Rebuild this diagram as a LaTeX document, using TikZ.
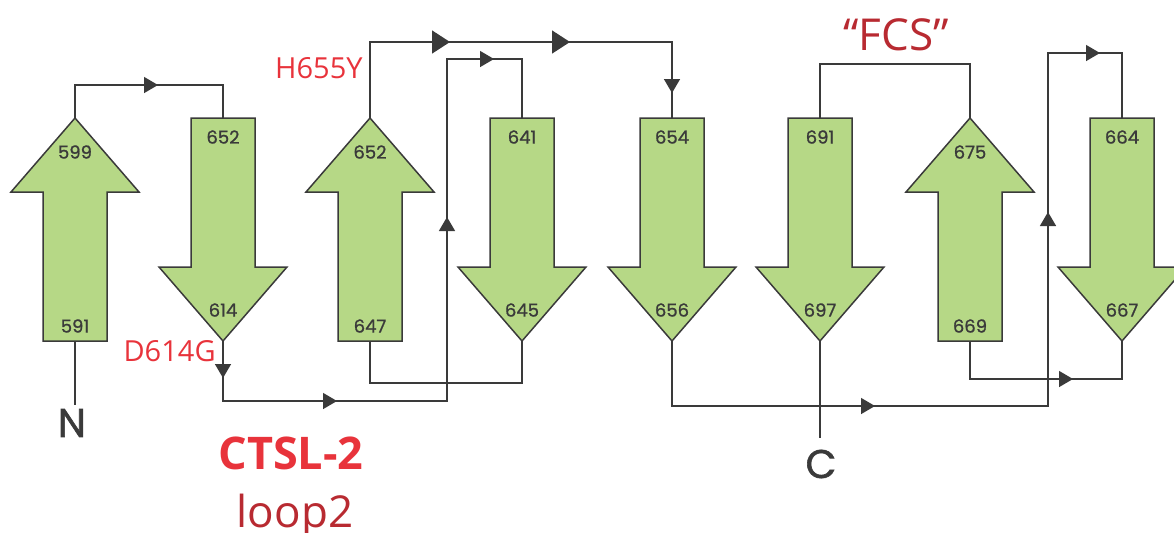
\documentclass[tikz,border=0pt]{standalone}
\usepackage{fontspec}
\usetikzlibrary{arrows.meta,decorations.markings}
\newfontfamily\numfont[RawFeature={embolden=1}]{Poppins}
\newfontfamily\termfont[RawFeature={embolden=1.5}]{Poppins}
\newfontfamily\labfont{Open Sans}
\definecolor{sheet}{HTML}{B6D886}
\definecolor{edge}{HTML}{3A3A3A}
\definecolor{hotred}{HTML}{E8333B}
\definecolor{deepred}{HTML}{B82A31}
\tikzset{
  smalltip/.tip={Triangle[length=7pt,width=8pt]},
  bigtip/.tip={Triangle[length=9pt,width=11.5pt]},
  strand/.style={fill=sheet, draw=edge, line width=0.75pt, line join=miter},
  loopline/.style={draw=edge, line width=0.75pt},
  resnum/.style={font=\numfont\fontsize{9}{10}\selectfont, text=edge, inner sep=0pt},
  termlabel/.style={font=\termfont\fontsize{20}{22}\selectfont, text=edge, inner sep=0pt},
  mutlabel/.style={font=\labfont\fontsize{14.5}{16}\selectfont, text=hotred, inner sep=0pt}
}
\begin{document}
\begin{tikzpicture}[x=0.5pt,y=-0.5pt]
\useasboundingbox (0,0) rectangle (1174,532);
% strands pointing up
\foreach \n/\cx/\lo/\hi in {1/75/591/599, 3/370/647/652, 7/970/669/675} {
  \draw[strand] (\cx,118) -- (\cx+64,192) -- (\cx+32,192) -- (\cx+32,341)
    -- (\cx-32,341) -- (\cx-32,192) -- (\cx-64,192) -- cycle;
  \coordinate (s\n-top) at (\cx,118);
  \coordinate (s\n-bot) at (\cx,341);
  \node[resnum] (n\n-hi) at (\cx,152) {\hi};
  \node[resnum] (n\n-lo) at (\cx,326) {\lo};
}
% strands pointing down
\foreach \n/\cx/\hi/\lo in {2/223/652/614, 4/522/641/645, 5/672/654/656, 6/820/691/697, 8/1122/664/667} {
  \draw[strand] (\cx-32,118) -- (\cx+32,118) -- (\cx+32,267) -- (\cx+64,267)
    -- (\cx,341) -- (\cx-64,267) -- (\cx-32,267) -- cycle;
  \coordinate (s\n-top) at (\cx,118);
  \coordinate (s\n-bot) at (\cx,341);
  \node[resnum] (n\n-hi) at (\cx,137) {\hi};
  \node[resnum] (n\n-lo) at (\cx,310) {\lo};
}
% termini
\coordinate (nend) at (75,405);
\coordinate (cend) at (820,438);
\draw[loopline] (s1-bot) -- (nend);
\draw[loopline] (s6-bot) -- (cend);
\node[termlabel] (nterm) at (72,423) {N};
\node[termlabel] (cterm) at (821,464) {C};
% loops
\draw[loopline, decoration={markings, mark=at position 58pt with {\arrow{smalltip}}}, postaction=decorate]
  (s1-top) -- ++(0,-33) -| (s2-top);
\draw[loopline, decoration={markings,
    mark=at position 18.5pt with {\arrow{smalltip}},
    mark=at position 87pt with {\arrow{smalltip}},
    mark=at position 234pt with {\arrow{smalltip}},
    mark=at position 336.5pt with {\arrow{smalltip}}}, postaction=decorate]
  (s2-bot) |- (447,401) -- (447,59) -| (s4-top);
\draw[loopline] (s3-bot) -- ++(0,42) -| (s4-bot);
\draw[loopline, decoration={markings,
    mark=at position 78pt with {\arrow{bigtip}},
    mark=at position 138pt with {\arrow{bigtip}},
    mark=at position 214.5pt with {\arrow{smalltip}}}, postaction=decorate]
  (s3-top) -- ++(0,-76) -| (s5-top);
\draw[loopline, decoration={markings,
    mark=at position 134pt with {\arrow{smalltip}},
    mark=at position 317.5pt with {\arrow{smalltip}},
    mark=at position 423pt with {\arrow{smalltip}}}, postaction=decorate]
  (s5-bot) |- (1048,406) -- (1048,53) -| (s8-top);
\draw[loopline, decoration={markings, mark=at position 70.5pt with {\arrow{smalltip}}}, postaction=decorate]
  (s7-bot) -- ++(0,38) -| (s8-bot);
\draw[loopline] (s6-top) -- ++(0,-54) -| (s7-top);
% labels
\node[mutlabel, anchor=east] (h655y) at (363,68) {H655Y};
\node[mutlabel, anchor=east] (d614g) at (216,351) {D614G};
\node[font=\labfont\bfseries\fontsize{22.5}{26}\selectfont, text=hotred, inner sep=0pt] (ctsl) at (291,453) {CTSL-2};
\node[font=\labfont\fontsize{22}{24}\selectfont, text=deepred, inner sep=0pt, anchor=base] (loop) at (295,527) {loop2};
\node[font=\labfont\fontsize{22}{24}\selectfont, text=deepred, inner sep=0pt, anchor=base] (fcs) at (896,50) {“FCS”};
\end{tikzpicture}
\end{document}
